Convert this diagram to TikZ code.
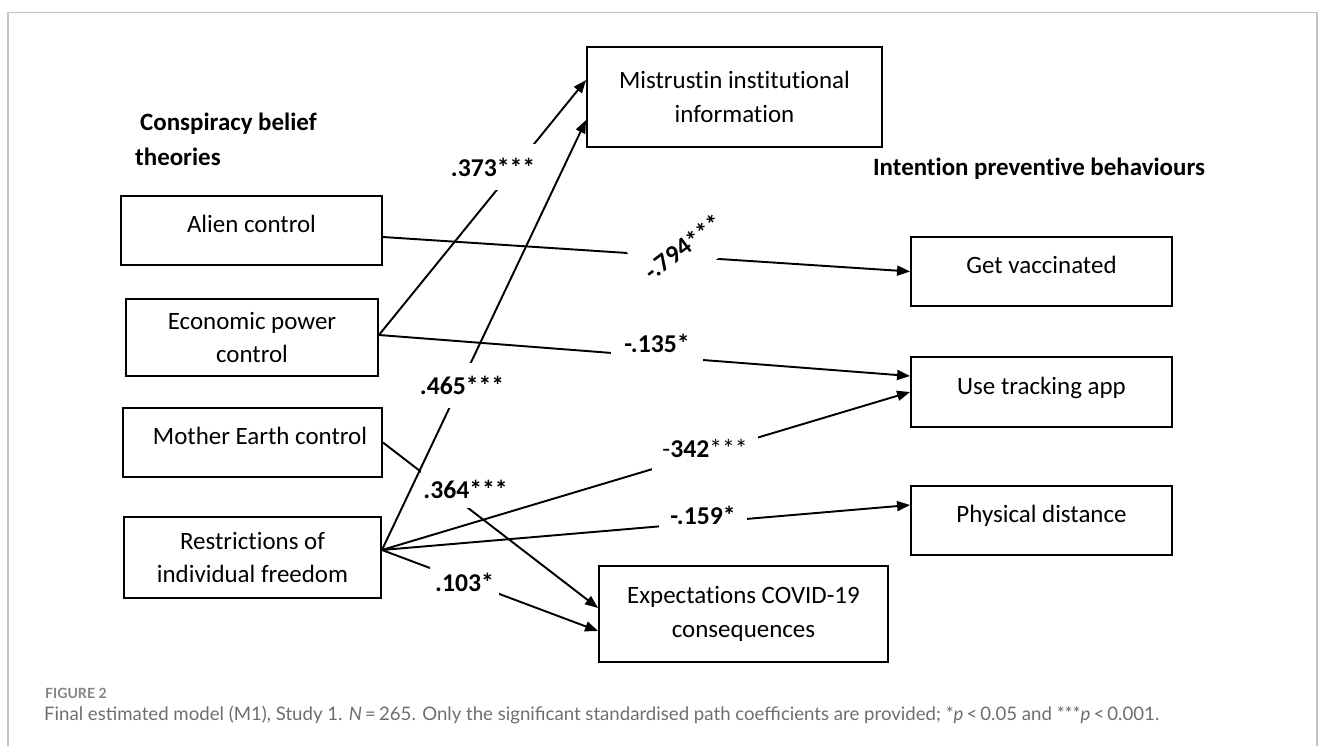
\documentclass[tikz,border=0pt]{standalone}
\usepackage{fontspec}
\setmainfont{Carlito}[Ligatures=NoCommon]
\newfontfamily\capfont{Lato}
\usetikzlibrary{arrows.meta}

\definecolor{framegray}{HTML}{C4C4C4}
\definecolor{capgray}{HTML}{6E6E6E}

\begin{document}
\begin{tikzpicture}[x=0.02cm,y=-0.02cm,
  box/.style={draw, line width=1.1pt, font=\fontsize{14.2}{19}\selectfont, align=center, inner sep=0pt},
  onebox/.style={box, text depth=0.26cm},
  link/.style={line width=1.1pt, -{Triangle[length=0.26cm,width=0.2cm]}},
  coef/.style={fill=white, inner sep=0pt, font=\fontsize{14.6}{17}\selectfont\bfseries},
  head/.style={font=\fontsize{14.2}{19.9}\selectfont\bfseries, align=left}]
\useasboundingbox (0,0) rectangle (1331,746);
\draw[framegray, line width=0.6pt] (8,746) -- (8,12.5) -- (1317,12.5) -- (1317,746);

\node[head, anchor=west] (cbt) at (129,139.5) {\hspace*{0.1cm}Conspiracy belief\\theories};
\node[head] (ipb) at (1039,169) {Intention preventive behaviours};

\node[onebox, minimum width=5.22cm, minimum height=1.38cm] (al) at (251.5,230.5) {Alien control};
\node[box, minimum width=5.04cm, minimum height=1.54cm] (ec) at (252,337.5) {Economic power\\control};
\node[onebox, minimum width=5.18cm, minimum height=1.38cm] (me) at (252.5,442.5) {\hspace*{0.3cm}Mother Earth control};
\node[box, minimum width=5.14cm, minimum height=1.62cm] (re) at (252.5,557.5) {Restrictions of\\individual freedom};
\node[box, minimum width=5.9cm, minimum height=2cm] (mi) at (734.5,97) {Mistrustin institutional\\information};
\node[box, minimum width=5.78cm, minimum height=1.92cm] (ex) at (743.5,614) {Expectations COVID-19\\consequences};
\node[onebox, minimum width=5.22cm, minimum height=1.38cm] (gv) at (1041.5,271.5) {Get vaccinated};
\node[onebox, minimum width=5.22cm, minimum height=1.4cm] (ut) at (1041.5,392) {Use tracking app};
\node[onebox, minimum width=5.22cm, minimum height=1.38cm] (pd) at (1041.5,520.5) {Physical distance};

\draw[link] ([yshift=0.05cm]ec.east) -- ([yshift=0.34cm]mi.west);
\draw[link] ([yshift=0.15cm]re.east) -- ([yshift=-0.46cm]mi.west);
\draw[link] ([yshift=-0.13cm]al.east) -- (gv.west);
\draw[link] ([yshift=0.05cm]ec.east) -- ([yshift=0.32cm]ut.west);
\draw[link] ([yshift=0.15cm]re.east) -- (ut.west);
\draw[link] ([yshift=0.15cm]re.east) -- ([yshift=0.31cm]pd.west);
\draw[link] (me.east) -- ([yshift=0.12cm]ex.west);
\draw[link] ([yshift=0.15cm]re.east) -- ([yshift=-0.34cm]ex.west);

\node[coef, minimum width=1.72cm, minimum height=0.92cm] (c373) at (493,167) {.373***};
\node[coef, rotate=37, minimum width=1.92cm, minimum height=1.2cm] (c794) at (683,247) {-.794***};
\node[coef, minimum width=1.84cm, minimum height=0.66cm] (c135) at (657,349.5) {\raisebox{0.26cm}{-.135*}\hspace{0.4cm}};
\node[coef, minimum width=1.68cm, minimum height=0.9cm] (c465) at (462,385.5) {.465***};
\node[coef, minimum width=1.78cm, minimum height=0.76cm] (c364) at (465.5,489) {.364***};
\node[coef, minimum width=2.12cm, minimum height=0.72cm] (c342) at (705,454) {\raisebox{0.24cm}{{\mdseries-}342{\mdseries***}}\hspace{0.36cm}};
\node[coef, minimum width=1.76cm, minimum height=0.62cm] (c159) at (703,515.5) {-.159*};
\node[coef, minimum width=1.38cm, minimum height=0.7cm] (c103) at (464.5,582.5) {.103*\hspace{0.3cm}};

\node[anchor=west, text=capgray!85, font=\capfont\bfseries\fontsize{8}{10}\selectfont] (fig) at (39,693) {FIGURE 2};
\node[anchor=west, text=capgray, font=\capfont\fontsize{10.6}{12}\selectfont] (cap) at (38,715) {Final estimated model (M1), Study 1. \textit{N}\,=\,265. Only the significant standardised path coefficients are provided; *\textit{p}\,<\,0.05 and ***\textit{p}\,<\,0.001.};
\end{tikzpicture}
\end{document}
